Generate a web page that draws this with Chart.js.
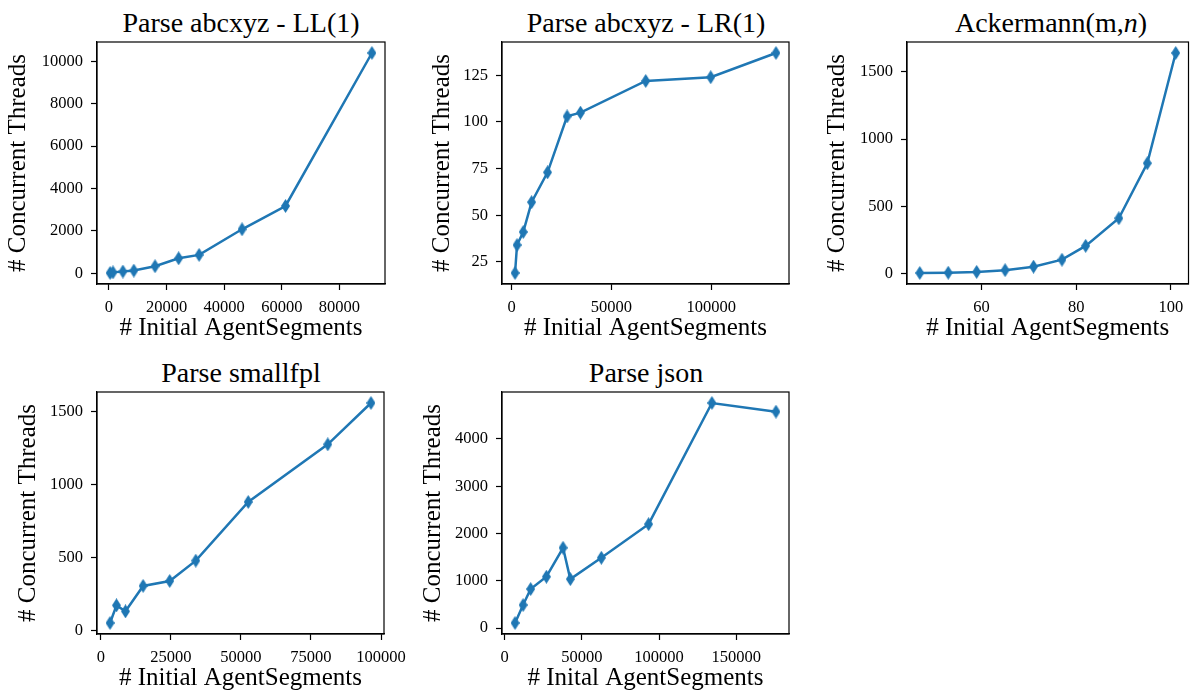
<!DOCTYPE html>
<html>
<head>
<meta charset="utf-8">
<script src="https://cdn.jsdelivr.net/npm/chart.js@4.4.1/dist/chart.umd.min.js"></script>
<style>
  body { margin: 0; background: #fff; }
  #wrap { position: relative; width: 1196px; height: 693px; overflow: hidden; background: #fff; }
  canvas { position: absolute; }
  .ttl {
    position: absolute; width: 288px; text-align: center; white-space: nowrap;
    font-family: "Liberation Serif", "Times New Roman", serif; font-size: 28px; line-height: 32px; color: #000;
  }
</style>
</head>
<body>
<div id="wrap">
  <div class="ttl" style="left:97px;top:7px">Parse abcxyz - LL(1)</div>
  <div class="ttl" style="left:502px;top:7px">Parse abcxyz - LR(1)</div>
  <div class="ttl" style="left:907px;top:7px">Ackermann(m,<i>n</i>)</div>
  <div class="ttl" style="left:97px;top:357px">Parse smallfpl</div>
  <div class="ttl" style="left:502px;top:357px">Parse json</div>

  <canvas id="c1" width="395" height="345" style="left:0;top:0"></canvas>
  <canvas id="c2" width="400" height="345" style="left:400px;top:0"></canvas>
  <canvas id="c3" width="396" height="345" style="left:800px;top:0"></canvas>
  <canvas id="c4" width="420" height="345" style="left:0;top:350px"></canvas>
  <canvas id="c5" width="400" height="345" style="left:400px;top:350px"></canvas>
</div>

<script>
// Parse abcxyz - LL(1)
const llSegments = [400, 1400, 4850, 8650, 16000, 24200, 31300, 46200, 61300, 91300];
const llThreads  = [10, 40, 80, 125, 330, 705, 865, 2075, 3175, 10400];
const llXTicks = [0, 20000, 40000, 60000, 80000];
const llYTicks = [0, 2000, 4000, 6000, 8000, 10000];

// Parse abcxyz - LR(1)
const lrSegments = [1700, 2700, 5800, 10000, 18000, 27800, 34500, 67200, 99800, 132500];
const lrThreads  = [19, 34, 41, 57, 73, 103, 105, 122, 124, 137];
const lrXTicks = [0, 50000, 100000];
const lrYTicks = [25, 50, 75, 100, 125];

// Ackermann(m,n)
const ackSegments = [47, 53, 59, 65, 71, 77, 82, 89, 95, 101];
const ackThreads  = [3, 5, 11, 24, 50, 102, 205, 410, 820, 1640];
const ackXTicks = [60, 80, 100];
const ackYTicks = [0, 500, 1000, 1500];

// Parse smallfpl
const fplSegments = [3300, 5600, 8800, 15100, 24600, 33900, 52600, 81000, 96400];
const fplThreads  = [50, 171, 130, 304, 338, 477, 879, 1274, 1557];
const fplXTicks = [0, 25000, 50000, 75000, 100000];
const fplYTicks = [0, 500, 1000, 1500];

// Parse json
const jsonSegments = [6700, 11900, 16800, 27000, 37800, 42500, 62600, 93200, 134200, 175700];
const jsonThreads  = [106, 486, 824, 1085, 1697, 1035, 1486, 2197, 4760, 4577];
const jsonXTicks = [0, 50000, 100000, 150000];
const jsonYTicks = [0, 1000, 2000, 3000, 4000];

const BLUE = "#1f77b4";
const FONT = "'Liberation Serif', 'Times New Roman', serif";

// thin diamond marker like matplotlib 'd'
const diamond = document.createElement("canvas");
diamond.width = 9;
diamond.height = 14;
{
  const g = diamond.getContext("2d");
  g.fillStyle = BLUE;
  g.beginPath();
  g.moveTo(4.5, 0);
  g.lineTo(9, 7);
  g.lineTo(4.5, 14);
  g.lineTo(0, 7);
  g.closePath();
  g.fill();
}

// full box around plot area (top/right spines)
const boxPlugin = {
  id: "box",
  afterDraw(chart) {
    const { ctx, chartArea: a } = chart;
    ctx.save();
    ctx.strokeStyle = "#000";
    ctx.lineWidth = 1.2;
    ctx.strokeRect(a.left, a.top, a.right - a.left, a.bottom - a.top);
    ctx.restore();
  }
};

function pad(vals) {
  const lo = Math.min(...vals), hi = Math.max(...vals);
  const m = (hi - lo) * 0.05;
  return { min: lo - m, max: hi + m };
}

function makeChart(id, xs, ys, xTicks, yTicks, opt) {
  const xr = pad(xs), yr = pad(ys);
  const axisCommon = {
    type: "linear",
    border: { display: true, color: "#000", width: 1.2 },
    grid: { drawOnChartArea: false, drawTicks: true, tickLength: 6, tickWidth: 1.2, tickColor: "#000" },
  };
  new Chart(document.getElementById(id), {
    type: "line",
    data: {
      datasets: [{
        data: xs.map((x, i) => ({ x, y: ys[i] })),
        borderColor: BLUE,
        backgroundColor: BLUE,
        borderWidth: 2.5,
        pointStyle: diamond,
        pointRadius: 5,
        tension: 0
      }]
    },
    options: {
      responsive: false,
      animation: false,
      events: [],
      layout: { padding: { left: 0, right: opt.right, top: 42, bottom: 0 } },
      plugins: { legend: { display: false }, tooltip: { enabled: false } },
      scales: {
        x: {
          ...axisCommon,
          min: xr.min, max: xr.max,
          afterBuildTicks: s => { s.ticks = xTicks.map(v => ({ value: v })); },
          afterFit: s => { s.height = 61; },
          ticks: { color: "#000", font: { family: FONT, size: 16.5 }, padding: 8, maxRotation: 0, autoSkip: false, callback: v => String(v) },
          title: { display: true, text: opt.xLabel, color: "#000", font: { family: FONT, size: 25 }, padding: { top: 0, bottom: 2 } }
        },
        y: {
          ...axisCommon,
          min: yr.min, max: yr.max,
          afterBuildTicks: s => { s.ticks = yTicks.map(v => ({ value: v })); },
          afterFit: s => { s.width = opt.yw; },
          ticks: { color: "#000", font: { family: FONT, size: 16.5 }, padding: 8, autoSkip: false, callback: v => String(v) },
          title: { display: true, text: "# Concurrent Threads", color: "#000", font: { family: FONT, size: 25 }, padding: { top: opt.yt, bottom: 0 } }
        }
      }
    },
    plugins: [boxPlugin]
  });
}

makeChart("c1", llSegments, llThreads, llXTicks, llYTicks, { yw: 97, right: 10, yt: 3, xLabel: "# Initial AgentSegments" });
makeChart("c2", lrSegments, lrThreads, lrXTicks, lrYTicks, { yw: 102, right: 11, yt: 27, xLabel: "# Initial AgentSegments" });
makeChart("c3", ackSegments, ackThreads, ackXTicks, ackYTicks, { yw: 107, right: 2, yt: 22, xLabel: "# Initial AgentSegments" });
makeChart("c4", fplSegments, fplThreads, fplXTicks, fplYTicks, { yw: 97, right: 36, yt: 13, xLabel: "# Initial AgentSegments" });
makeChart("c5", jsonSegments, jsonThreads, jsonXTicks, jsonYTicks, { yw: 102, right: 11, yt: 18, xLabel: "# Inital AgentSegments" });
</script>
</body>
</html>
